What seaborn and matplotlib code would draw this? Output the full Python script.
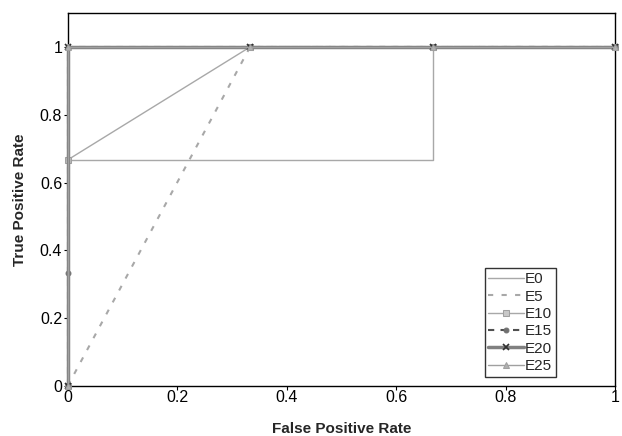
import matplotlib
matplotlib.use("Agg")
import matplotlib.pyplot as plt
import seaborn as sns
import pandas as pd

sns.set_theme(style="white")
plt.rcParams['font.family'] = ['Liberation Sans', 'DejaVu Sans']

# ROC curves for each epoch setting
fpr_e0 = [0, 0, 0.667, 0.667, 1]
tpr_e0 = [0, 0.667, 0.667, 1, 1]
fpr_e5 = [0, 0.333, 0.667, 1]
tpr_e5 = [0, 1, 1, 1]
fpr_e10 = [0, 0, 0.333, 0.667, 1]
tpr_e10 = [0, 0.667, 1, 1, 1]
fpr_e15 = [0, 0, 0, 0.333, 0.667, 1]
tpr_e15 = [0, 0.333, 1, 1, 1, 1]
fpr_e20 = [0, 0, 0.333, 0.667, 1]
tpr_e20 = [0, 1, 1, 1, 1]
fpr_e25 = [0, 0, 0.333, 0.667, 1]
tpr_e25 = [0, 1, 1, 1, 1]

series = [
    ("E0", fpr_e0, tpr_e0, dict(color="#a8a8a8", lw=1.0, ls="-", marker=None)),
    ("E5", fpr_e5, tpr_e5, dict(color="#a8a8a8", lw=1.5, ls=(0, (2.5, 4)), marker=None)),
    ("E10", fpr_e10, tpr_e10, dict(color="#a8a8a8", lw=1.0, ls="-", marker="s", ms=4, mfc="#c8c8c8", mec="#a0a0a0")),
    ("E15", fpr_e15, tpr_e15, dict(color="#505050", lw=1.5, ls=(0, (3, 3)), marker="o", ms=3.5, mfc="#707070", mec="#707070")),
    ("E20", fpr_e20, tpr_e20, dict(color="#808080", lw=2.5, ls="-", marker="x", ms=5, mec="#303030", mew=1.2)),
    ("E25", fpr_e25, tpr_e25, dict(color="#a0a0a0", lw=1.0, ls="-", marker="^", ms=4, mfc="#b0b0b0", mec="#a0a0a0")),
]

fig = plt.figure(figsize=(6.22, 4.36), dpi=100)
ax = fig.add_axes([0.109, 0.115, 0.880, 0.855])

for name, fx, ty, st in series:
    df = pd.DataFrame({"fpr": fx, "tpr": ty})
    sns.lineplot(data=df, x="fpr", y="tpr", sort=False, estimator=None, ax=ax,
                 label=name, clip_on=False, zorder=3, **st)

ax.set_xlim(0, 1)
ax.set_ylim(0, 1.1)
ax.set_xticks([0, 0.2, 0.4, 0.6, 0.8, 1])
ax.set_xticklabels(["0", "0.2", "0.4", "0.6", "0.8", "1"])
ax.set_yticks([0, 0.2, 0.4, 0.6, 0.8, 1])
ax.set_yticklabels(["0", "0.2", "0.4", "0.6", "0.8", "1"])
ax.tick_params(axis="both", direction="out", length=3, width=0.8, colors="black",
               labelsize=11.5, left=True, bottom=True)
ax.tick_params(axis="x", pad=0)
ax.tick_params(axis="y", pad=1)
ax.set_xlabel("False Positive Rate", fontsize=11, fontweight="bold", labelpad=12)
ax.set_ylabel("True Positive Rate", fontsize=11, fontweight="bold", labelpad=9)

for sp in ax.spines.values():
    sp.set_color("black")
    sp.set_linewidth(1.0)

leg = ax.legend(loc="lower right", bbox_to_anchor=(0.892, 0.024), frameon=True,
                fancybox=False, edgecolor="black", fontsize=11,
                handlelength=2.3, handletextpad=0.1, labelspacing=0.22,
                borderpad=0.25, borderaxespad=0.0)
leg.get_frame().set_linewidth(1.0)

fig.savefig("out.png", dpi=100)
